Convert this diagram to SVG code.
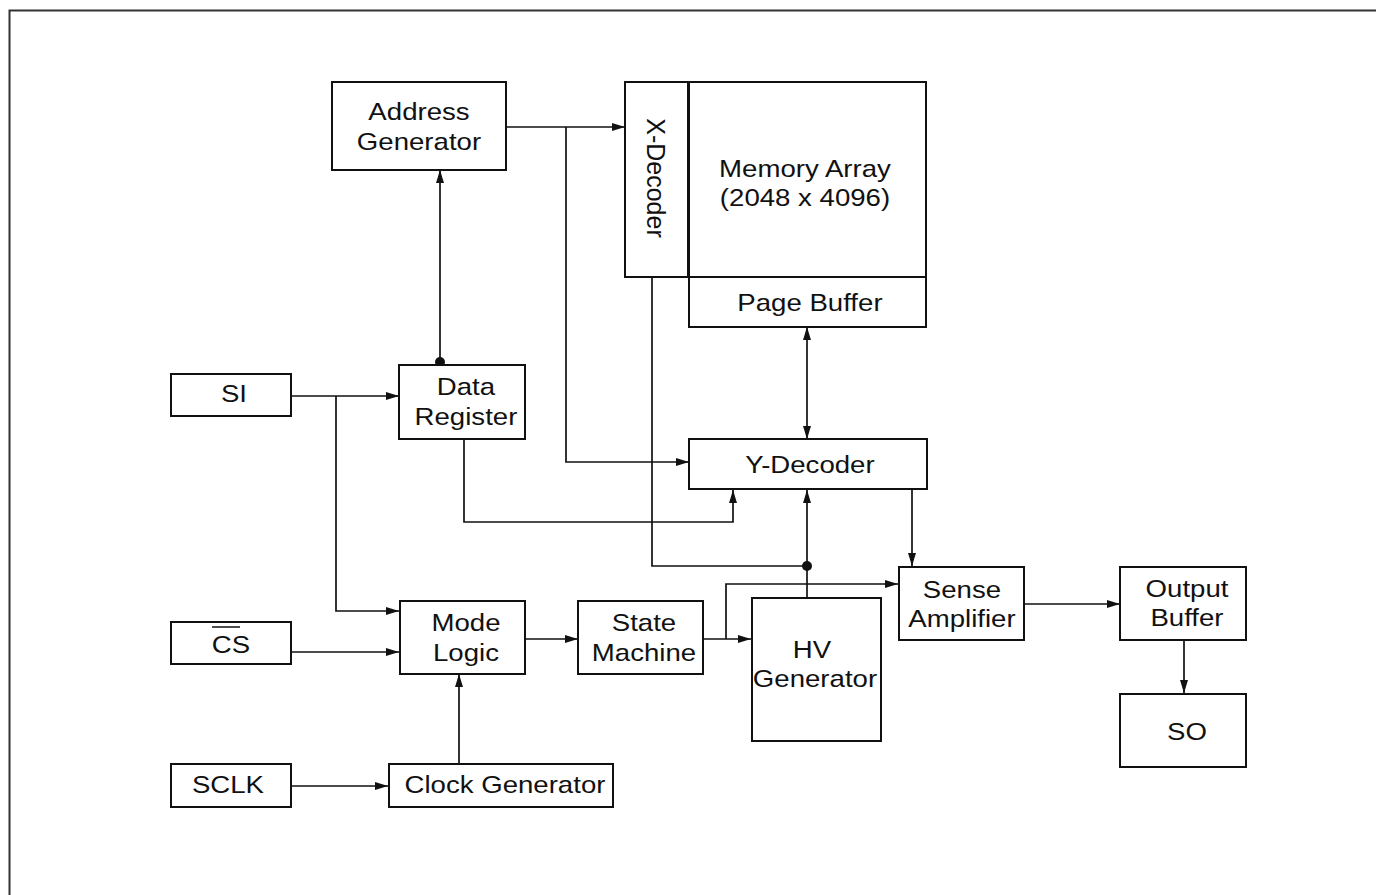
<svg xmlns="http://www.w3.org/2000/svg" width="1376" height="895" viewBox="0 0 1376 895">
<style>
.b{fill:#fff;stroke:#111;stroke-width:2}
.t{font-family:"Liberation Sans",Arial,sans-serif;font-size:24px;fill:#111;text-anchor:middle;transform-box:fill-box;transform-origin:center;transform:scaleX(1.15)}
.c path{fill:none;stroke:#111;stroke-width:1.7}
.a{marker-end:url(#ah)}
</style>
<defs>
<marker id="ah" markerUnits="userSpaceOnUse" markerWidth="14" markerHeight="9" refX="13" refY="4" orient="auto"><path d="M0,0 L13,4 L0,8 z" fill="#111"/></marker>
<marker id="as" markerUnits="userSpaceOnUse" markerWidth="14" markerHeight="9" refX="0" refY="4" orient="auto"><path d="M13,0 L0,4 L13,8 z" fill="#111"/></marker>
</defs>
<rect width="1376" height="895" fill="#fff"/>
<path d="M9.5,895 V10.5 H1376" fill="none" stroke="#333" stroke-width="2"/>

<g id="connectors" class="c">
<path class="a" d="M506,127 H625"/>
<path class="a" d="M566,127 V462 H689"/>
<path class="a" d="M440,362 V170"/>
<path class="a" d="M291,396 H399"/>
<path class="a" d="M336,396 V611 H399"/>
<path class="a" d="M291,652 H399"/>
<path class="a" d="M291,786 H388"/>
<path class="a" d="M459,764 V674"/>
<path class="a" d="M525,639 H578"/>
<path class="a" d="M703,639 H751"/>
<path class="a" d="M726,639 V584 H898"/>
<path class="a" d="M464,439 V522 H733 V490"/>
<path class="a" d="M807,327 V439" marker-start="url(#as)"/>
<path d="M652,277 V566 H807"/>
<path class="a" d="M807,598 V490"/>
<path class="a" d="M912,489 V566"/>
<path class="a" d="M1024,604 H1120"/>
<path class="a" d="M1184,640 V693"/>
<circle cx="440" cy="362" r="5" fill="#111"/>
<circle cx="807" cy="566" r="5" fill="#111"/>
</g>

<g id="address-generator"><rect class="b" x="332" y="82" width="174" height="88"/>
<text class="t" x="419" y="120">Address</text><text class="t" x="419" y="150">Generator</text></g>

<g id="x-decoder"><rect class="b" x="625" y="82" width="63" height="195"/>
<text transform="translate(656,178) rotate(90)" y="9" font-family="Liberation Sans, Arial, sans-serif" font-size="25" fill="#111" text-anchor="middle">X-Decoder</text></g>

<g id="memory-array"><rect class="b" x="688" y="82" width="238" height="195"/>
<line x1="688.5" y1="82" x2="688.5" y2="277" stroke="#111" stroke-width="3"/>
<text class="t" x="805" y="177">Memory Array</text><text class="t" x="805" y="206">(2048 x 4096)</text></g>

<g id="page-buffer"><rect class="b" x="689" y="277" width="237" height="50"/>
<text class="t" x="810" y="311">Page Buffer</text></g>

<g id="data-register"><rect class="b" x="399" y="365" width="126" height="74"/>
<text class="t" x="466" y="395">Data</text><text class="t" x="466" y="425">Register</text></g>

<g id="si"><rect class="b" x="171" y="374" width="120" height="42"/>
<text class="t" x="234" y="402">SI</text></g>

<g id="y-decoder"><rect class="b" x="689" y="439" width="238" height="50"/>
<text class="t" x="810" y="473">Y-Decoder</text></g>

<g id="mode-logic"><rect class="b" x="400" y="601" width="125" height="73"/>
<text class="t" x="466" y="631">Mode</text><text class="t" x="466" y="661">Logic</text></g>

<g id="cs"><rect class="b" x="171" y="622" width="120" height="42"/>
<text class="t" x="231" y="653">CS</text>
<line x1="212" y1="627" x2="240" y2="627" stroke="#111" stroke-width="1.5"/></g>

<g id="state-machine"><rect class="b" x="578" y="601" width="125" height="73"/>
<text class="t" x="644" y="631">State</text><text class="t" x="644" y="661">Machine</text></g>

<g id="hv-generator"><rect class="b" x="752" y="598" width="129" height="143"/>
<text class="t" x="812" y="658">HV</text><text class="t" x="815" y="687">Generator</text></g>

<g id="sense-amplifier"><rect class="b" x="899" y="567" width="125" height="73"/>
<text class="t" x="962" y="598">Sense</text><text class="t" x="962" y="627">Amplifier</text></g>

<g id="output-buffer"><rect class="b" x="1120" y="567" width="126" height="73"/>
<text class="t" x="1187" y="597">Output</text><text class="t" x="1187" y="626">Buffer</text></g>

<g id="so"><rect class="b" x="1120" y="694" width="126" height="73"/>
<text class="t" x="1187" y="740">SO</text></g>

<g id="sclk"><rect class="b" x="171" y="764" width="120" height="43"/>
<text class="t" x="228" y="793">SCLK</text></g>

<g id="clock-generator"><rect class="b" x="389" y="764" width="224" height="43"/>
<text class="t" x="505" y="793">Clock Generator</text></g>
</svg>
